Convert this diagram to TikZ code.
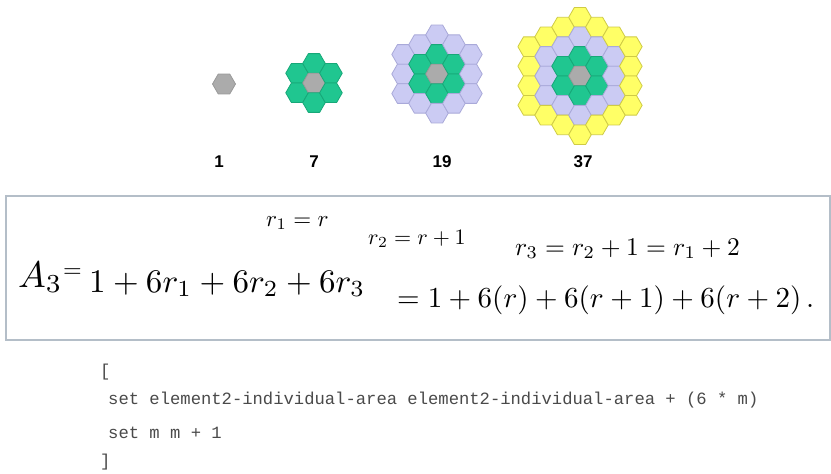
\documentclass[tikz,border=0pt]{standalone}
\usepackage{graphicx}
\usepackage{fontspec}
\newfontfamily\labfont{Liberation Sans}
\newfontfamily\codefont{Liberation Mono}
\definecolor{hgrayf}{HTML}{ABABAB}
\definecolor{hgrayd}{HTML}{999999}
\definecolor{hgreenf}{HTML}{20C690}
\definecolor{hgreend}{HTML}{17A878}
\definecolor{hlavf}{HTML}{CBCBF3}
\definecolor{hlavd}{HTML}{A9A9D9}
\definecolor{hyelf}{HTML}{FFFF66}
\definecolor{hyeld}{HTML}{CFCB45}
\definecolor{boxc}{HTML}{B4BEC8}
\definecolor{codec}{HTML}{4A4A4A}
\tikzset{
  hexring0/.style={fill=hgrayf, draw=hgrayd, line width=0.8pt, line join=round},
  hexring1/.style={fill=hgreenf, draw=hgreend, line width=0.8pt, line join=round},
  hexring2/.style={fill=hlavf, draw=hlavd, line width=0.8pt, line join=round},
  hexring3/.style={fill=hyelf, draw=hyeld, line width=0.8pt, line join=round},
  numlab/.style={font=\labfont\bfseries\fontsize{17}{20}\selectfont, inner sep=0pt},
  hand/.style={anchor=base west, inner sep=0pt},
  codeline/.style={anchor=base west, inner sep=0pt, text=codec, font=\codefont\fontsize{17.2}{20}\selectfont},
  boxline/.style={draw=boxc, line width=1.6pt}
}
\newcommand\hexcell[4]{% x, y, R, ring
  \filldraw[hexring#4] (#1,#2) +(0:#3) -- +(60:#3) -- +(120:#3) -- +(180:#3) -- +(240:#3) -- +(300:#3) -- cycle;}
\newcommand\hexcluster[4]{% cx, cy, R, n
  \foreach \qq in {-#4,...,#4}{%
    \foreach \rr in {-#4,...,#4}{%
      \pgfmathtruncatemacro\dd{max(abs(\qq),abs(\rr),abs(\qq+\rr))}%
      \ifnum\dd>#4\relax\else
        \pgfmathsetmacro\hx{#1+1.5*#3*\qq}%
        \pgfmathsetmacro\hy{#2+0.8660254*#3*(2*\rr+\qq)}%
        \hexcell{\hx}{\hy}{#3}{\dd}%
      \fi
    }%
  }%
}
\begin{document}
\begin{tikzpicture}[x=1pt,y=-1pt]
\useasboundingbox (0,0) rectangle (831,474);
\fill[white] (0,0) rectangle (831,474);

% hexagon clusters
\hexcell{224}{84}{11.5}{0}
\hexcluster{314}{83}{11.3}{1}
\hexcluster{437}{74}{11.3}{2}
\hexcluster{580}{76}{11.3}{3}

% counts
\node[numlab] (n1) at (219,162) {1};
\node[numlab] (n7) at (314,162) {7};
\node[numlab] (n19) at (442,162) {19};
\node[numlab] (n37) at (583,162) {37};

% framed formula area
\draw[boxline] (6,196) rectangle (830,340);
\node[hand] (f1) at (266,226) {\scalebox{2.3}{$r_1 = r$}};
\node[hand] (f2) at (368,244) {\scalebox{2.2}{$r_2 = r+1$}};
\node[hand] (f3) at (515,255) {\scalebox{2.55}{$r_3 = r_2+1 = r_1+2$}};
\node[hand] (s1) at (18,287) {\scalebox{3.7}{$A_3$}};
\node[hand] (s1eq) at (63,277) {\scalebox{2.4}{$=$}};
\node[hand] (s2) at (89,292) {\scalebox{3.3}{$1 + 6r_1 + 6r_2 + 6r_3$}};
\node[hand] (s3) at (397,307) {\scalebox{2.9}{$= 1 + 6(r) + 6(r+1) + 6(r+2)\,.$}};

% code
\node[codeline] (c0) at (100,376) {[};
\node[codeline] (c1) at (108,404) {set element2-individual-area element2-individual-area + (6 * m)};
\node[codeline] (c2) at (108,438) {set m m + 1};
\node[codeline] (c3) at (100,466) {]};
\end{tikzpicture}
\end{document}
